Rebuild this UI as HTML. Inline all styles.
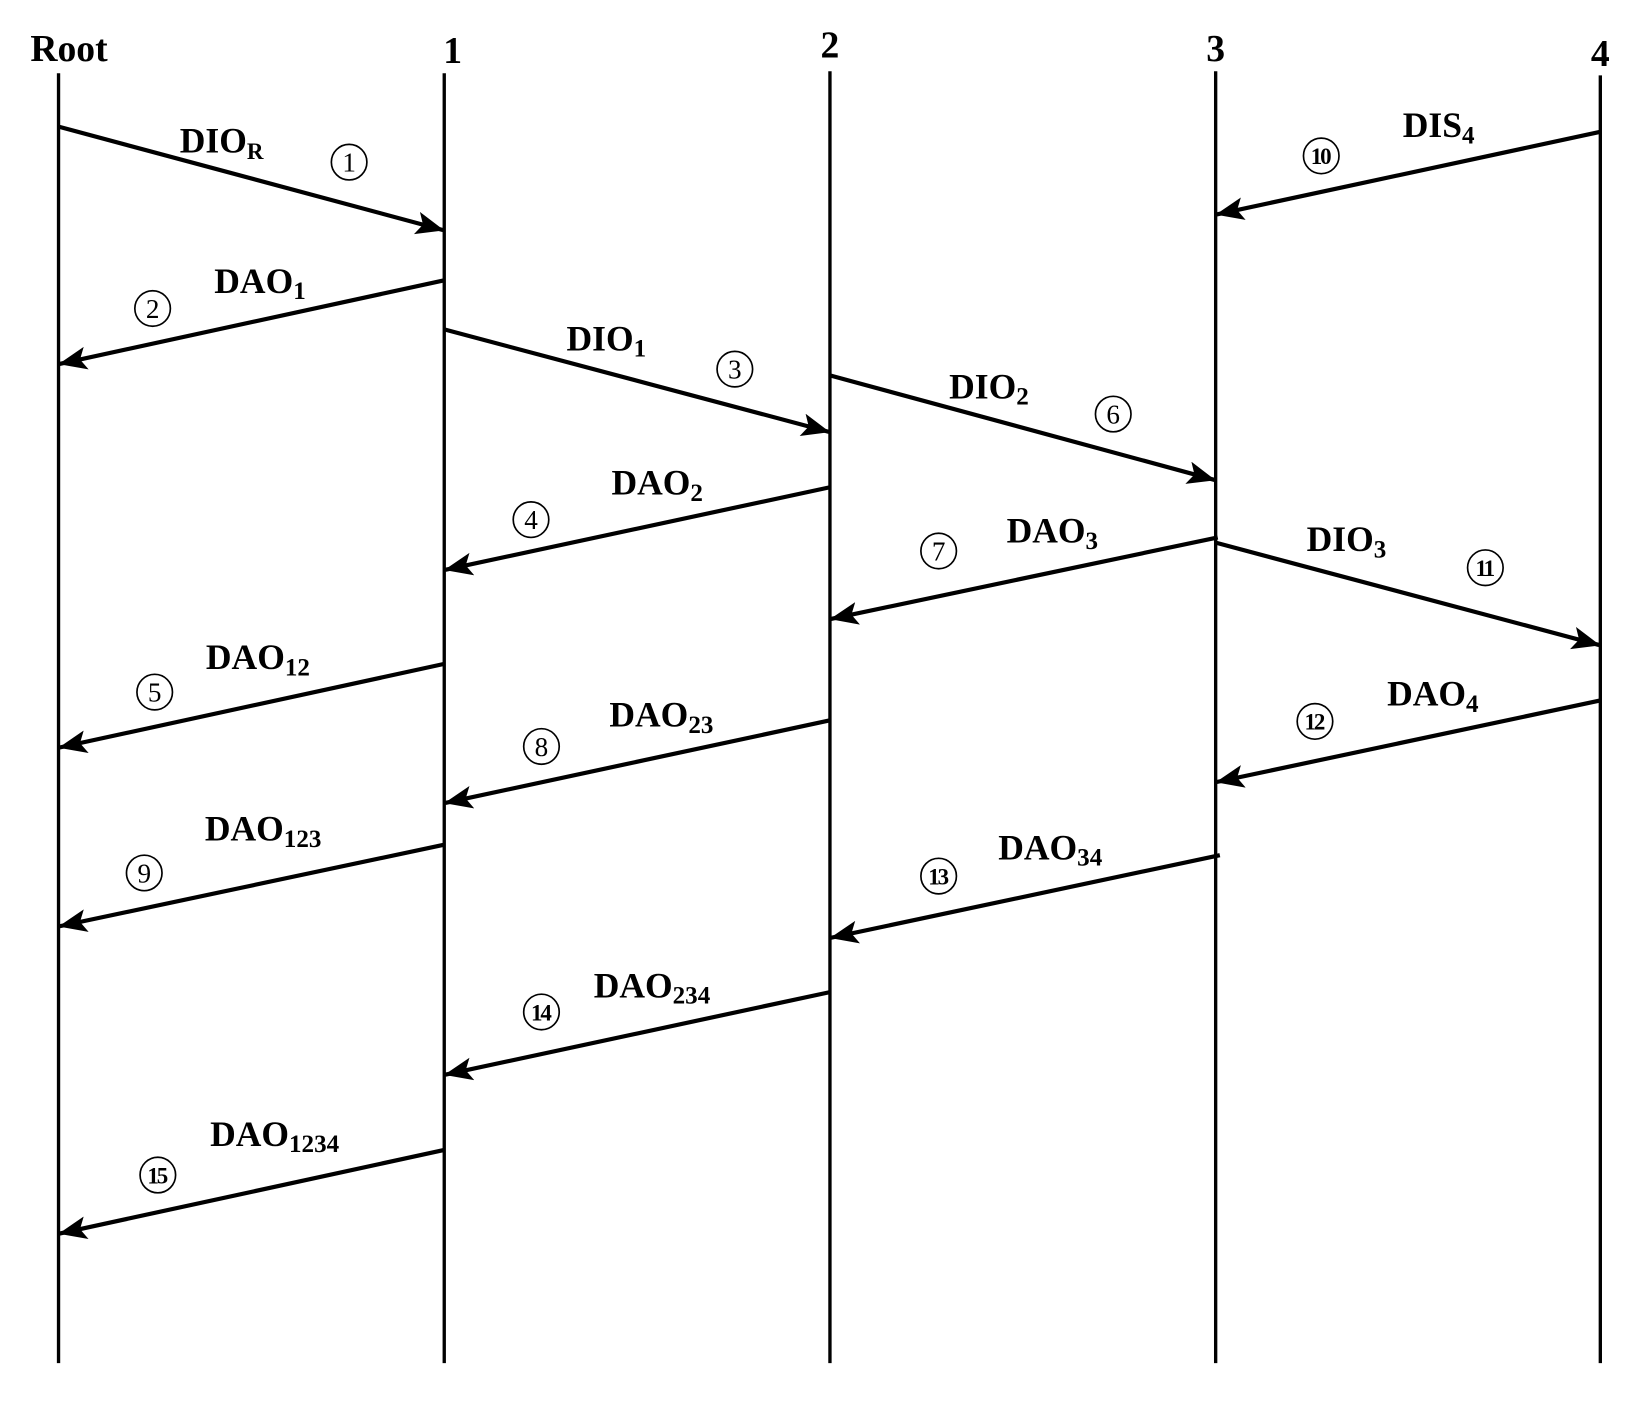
<!DOCTYPE html>
<html><head><meta charset="utf-8"><style>html,body{margin:0;padding:0;background:#fff}svg{display:block}</style></head>
<body>
<svg width="1639" height="1402" viewBox="0 0 1568 1341" xmlns="http://www.w3.org/2000/svg" font-family="'Liberation Serif', serif">
<defs>
<marker id="a" markerUnits="userSpaceOnUse" markerWidth="30" markerHeight="24" refX="26" refY="11" orient="auto">
<path d="M0,0 L27,11 L0,22 L6,11 Z" fill="#000"/>
</marker>
</defs>
<g stroke="#000" stroke-width="3.2">
<line x1="56" y1="70" x2="56" y2="1304"/>
<line x1="425" y1="70" x2="425" y2="1304"/>
<line x1="794" y1="68" x2="794" y2="1304"/>
<line x1="1163" y1="68" x2="1163" y2="1304"/>
<line x1="1531" y1="72" x2="1531" y2="1304"/>
</g>
<g font-weight="bold" font-size="36" text-anchor="middle">
<text x="66" y="58">Root</text>
<text x="433" y="60">1</text>
<text x="794" y="55">2</text>
<text x="1163" y="58">3</text>
<text x="1531" y="63">4</text>
</g>
<g stroke="#000" stroke-width="4" marker-end="url(#a)">
<line x1="56" y1="121" x2="424" y2="220"/>
<line x1="425" y1="268" x2="57" y2="348"/>
<line x1="425" y1="315" x2="793" y2="413"/>
<line x1="794" y1="466" x2="426" y2="545"/>
<line x1="794" y1="359" x2="1162" y2="459"/>
<line x1="1165" y1="514" x2="795" y2="592"/>
<line x1="1163" y1="519" x2="1530" y2="617"/>
<line x1="1531" y1="126" x2="1164" y2="205"/>
<line x1="425" y1="635" x2="57" y2="715"/>
<line x1="794" y1="689" x2="426" y2="768"/>
<line x1="1531" y1="670" x2="1164" y2="748"/>
<line x1="425" y1="808" x2="57" y2="886"/>
<line x1="1167" y1="818" x2="795" y2="897"/>
<line x1="794" y1="949" x2="426" y2="1028"/>
<line x1="425" y1="1100" x2="57" y2="1180"/>
</g>
<g font-weight="bold" font-size="34">
<text x="172" y="146">DIO<tspan font-size="22" dy="6">R</tspan></text>
<text x="205" y="280">DAO<tspan font-size="24" dy="6">1</tspan></text>
<text x="542" y="335">DIO<tspan font-size="24" dy="6">1</tspan></text>
<text x="585" y="473">DAO<tspan font-size="24" dy="6">2</tspan></text>
<text x="908" y="381">DIO<tspan font-size="24" dy="6">2</tspan></text>
<text x="963" y="519">DAO<tspan font-size="24" dy="6">3</tspan></text>
<text x="1250" y="527">DIO<tspan font-size="24" dy="6">3</tspan></text>
<text x="1342" y="131">DIS<tspan font-size="24" dy="6">4</tspan></text>
<text x="197" y="640">DAO<tspan font-size="24" dy="6">12</tspan></text>
<text x="583" y="695">DAO<tspan font-size="24" dy="6">23</tspan></text>
<text x="1327" y="675">DAO<tspan font-size="24" dy="6">4</tspan></text>
<text x="196" y="804">DAO<tspan font-size="24" dy="6">123</tspan></text>
<text x="955" y="822">DAO<tspan font-size="24" dy="6">34</tspan></text>
<text x="568" y="954">DAO<tspan font-size="24" dy="6">234</tspan></text>
<text x="201" y="1096">DAO<tspan font-size="24" dy="6">1234</tspan></text>
</g>
<g fill="none" stroke="#000" stroke-width="1.6">
<circle cx="334" cy="155" r="17"/><circle cx="146" cy="295" r="17"/><circle cx="703" cy="353" r="17"/>
<circle cx="508" cy="497" r="17"/><circle cx="148" cy="662" r="17"/><circle cx="1065" cy="396" r="17"/>
<circle cx="898" cy="527" r="17"/><circle cx="518" cy="714" r="17"/><circle cx="138" cy="835" r="17"/>
<circle cx="1264" cy="149" r="17"/><circle cx="1421" cy="543" r="17"/><circle cx="1258" cy="690" r="17"/>
<circle cx="898" cy="838" r="17"/><circle cx="518" cy="968" r="17"/><circle cx="151" cy="1124" r="17"/>
</g>
<g font-size="26" text-anchor="middle">
<text x="334" y="164">1</text><text x="146" y="304">2</text><text x="703" y="362">3</text>
<text x="508" y="506">4</text><text x="148" y="671">5</text><text x="1065" y="405">6</text>
<text x="898" y="536">7</text><text x="518" y="723">8</text><text x="138" y="844">9</text>
</g>
<g font-size="22" text-anchor="middle" font-weight="bold" letter-spacing="-2">
<text x="1263" y="157">10</text><text x="1420" y="551">11</text><text x="1257" y="698">12</text>
<text x="897" y="846">13</text><text x="517" y="976">14</text><text x="150" y="1132">15</text>
</g>
</svg>
</body></html>
